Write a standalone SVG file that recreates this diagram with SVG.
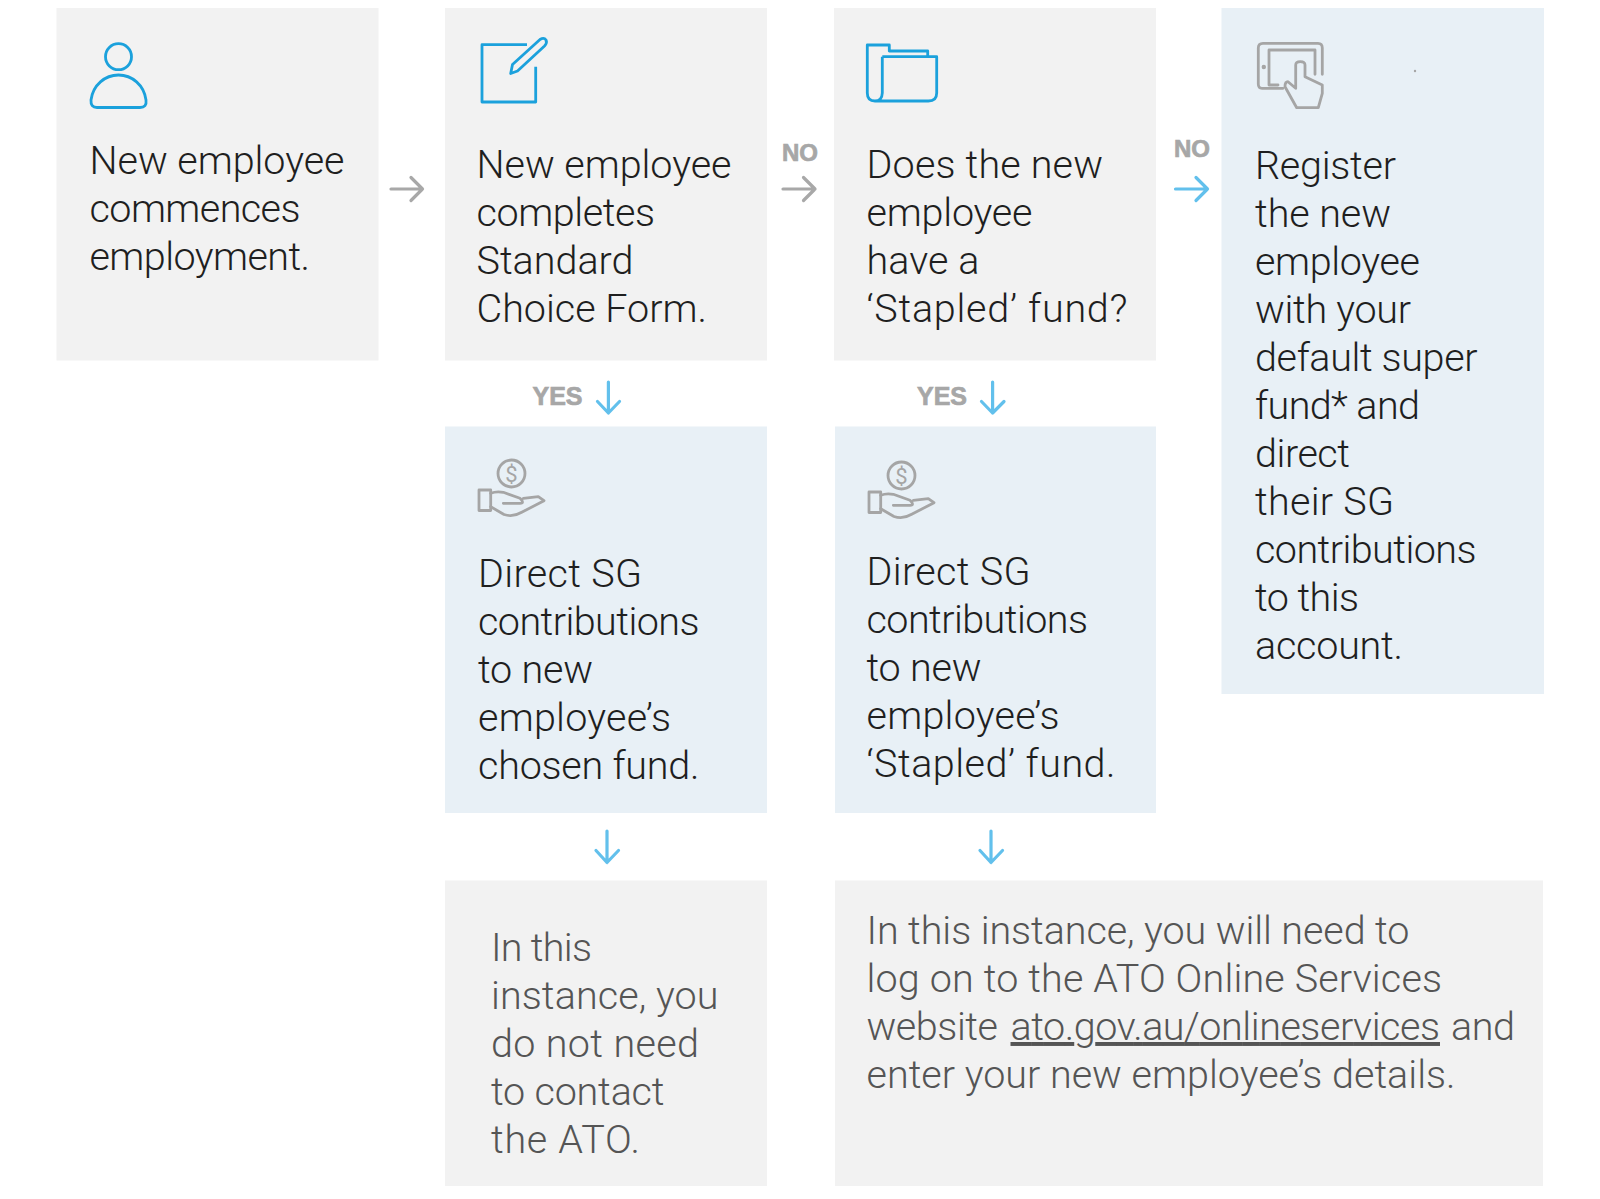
<svg xmlns="http://www.w3.org/2000/svg" width="1600" height="1199" viewBox="0 0 1600 1199">
<style>
.g{fill:#f2f2f2}.b{fill:#e8f0f6}
.t{font-family:Roboto,"Liberation Sans",sans-serif;font-weight:300;font-size:39.5px;fill:#1f1f1f}
.d{fill:#555}
.l{font-family:"Liberation Sans",Arial,sans-serif;font-weight:700;fill:#a7a7a7;stroke:#a7a7a7;stroke-width:.7}
.a{fill:none;stroke-width:3.2;stroke-linecap:round;stroke-linejoin:round}
.ag{stroke:#a8a8a8}.ab{stroke:#62c0ec}
.ic{fill:none;stroke:#1ba1dc;stroke-width:2.8;stroke-linejoin:round}
.ig{fill:none;stroke:#a5a5a5;stroke-width:2.8;stroke-linejoin:round;stroke-linecap:round}
</style>
<defs>
<g id="hand">
<circle cx="511.500" cy="473.500" r="13.500" class="ig"/>
<text x="511.500" y="481.500" text-anchor="middle" font-family="Roboto,sans-serif" font-size="22" fill="#a5a5a5">$</text>
<rect x="479" y="490" width="11.700" height="20.500" class="ig"/>
<path class="ig" d="M490.700 493.300C495 491.500 499 491.500 503.300 492.300L520 498.300Q525 503.300 520 503.300H503.300M523.300 498.300L538.300 496.700L544 500.700L521.700 512.300Q513 517.500 504 514.500L490.700 506.700"/>
</g>
</defs>
<g id="n1"><rect class="g" x="56.500" y="8" width="322" height="352.500"/>
<circle class="ic" cx="118.500" cy="56.700" r="13"/>
<path class="ic" d="M97 107.500H140Q147 107.500 146 100C144 85 132 75 118.500 75C105 75 93 85 91 100Q90.500 107.500 97 107.500Z"/>
<text class="t" x="89.500" y="174" textLength="255">New employee</text>
<text class="t" x="89.500" y="222" textLength="211">commences</text>
<text class="t" x="89.500" y="270" textLength="220.500">employment.</text></g>
<g id="n2"><rect class="g" x="445" y="8" width="322" height="352.500"/>
<path class="ic" d="M527 44.700H482V102H535.700V66.700"/>
<path class="ic" d="M510.700 73.500L512.500 64.500L540 39.500Q544 37 546 40Q547.500 43 544.500 46L517.500 71Z"/>
<text class="t" x="476.500" y="178" textLength="255">New employee</text>
<text class="t" x="476.500" y="226" textLength="178.500">completes</text>
<text class="t" x="476.500" y="274" textLength="157">Standard</text>
<text class="t" x="476.500" y="322" textLength="230.500">Choice Form.</text></g>
<g id="n3"><rect class="g" x="834" y="8" width="322" height="352.500"/>
<path class="ic" d="M882.300 56.700V93Q882 101 875 101Q867.300 101 867.300 93V45H889.300V51H927.700V56.700M882.300 56.700H936.700V93Q936.700 101 928.300 101H875"/>
<text class="t" x="866.500" y="178" textLength="236.500">Does the new</text>
<text class="t" x="866.500" y="226" textLength="166">employee</text>
<text class="t" x="866.500" y="274" textLength="113">have a</text>
<text class="t" x="866.500" y="322" textLength="261">‘Stapled’ fund?</text></g>
<g id="n4"><rect class="b" x="1221.500" y="8" width="322.500" height="686"/>
<path class="ig" d="M1283 88.300H1262Q1258.300 88.300 1258.300 84V48Q1258.300 43.300 1263 43.300H1318Q1322.300 43.300 1322.300 48V74.300M1278 85H1269V50H1315V74.300"/>
<circle cx="1263.800" cy="67" r="2.200" fill="#a5a5a5"/>
<path class="ig" d="M1295.700 88.300V65Q1295.700 61.700 1300.300 61.700Q1305 61.700 1305 65V76.700L1322.300 85V93.300L1318.300 107.700H1296.700L1285 86.700Q1285 81.700 1288 81.700Z"/>
<circle cx="1415" cy="71" r="1.200" fill="#a5a5a5"/>
<text class="t" x="1255" y="179" textLength="141">Register</text>
<text class="t" x="1255" y="227" textLength="136">the new</text>
<text class="t" x="1255" y="275" textLength="165">employee</text>
<text class="t" x="1255" y="323" textLength="156">with your</text>
<text class="t" x="1255" y="371" textLength="222.500">default super</text>
<text class="t" x="1255" y="419" textLength="165">fund* and</text>
<text class="t" x="1255" y="467" textLength="95">direct</text>
<text class="t" x="1255" y="515" textLength="139">their SG</text>
<text class="t" x="1255" y="563" textLength="221.500">contributions</text>
<text class="t" x="1255" y="611" textLength="104">to this</text>
<text class="t" x="1255" y="659" textLength="148">account.</text></g>
<g id="n5"><rect class="b" x="445" y="426.500" width="322" height="386.500"/>
<use href="#hand"/>
<text class="t" x="478" y="587" textLength="164">Direct SG</text>
<text class="t" x="478" y="635" textLength="221.500">contributions</text>
<text class="t" x="478" y="683" textLength="115">to new</text>
<text class="t" x="478" y="731" textLength="193">employee’s</text>
<text class="t" x="478" y="779" textLength="221.500">chosen fund.</text></g>
<g id="n6"><rect class="b" x="835" y="426.500" width="321" height="386.500"/>
<use href="#hand" x="390" y="2"/>
<text class="t" x="866.500" y="585" textLength="164">Direct SG</text>
<text class="t" x="866.500" y="633" textLength="221.500">contributions</text>
<text class="t" x="866.500" y="681" textLength="115">to new</text>
<text class="t" x="866.500" y="729" textLength="193">employee’s</text>
<text class="t" x="866.500" y="777" textLength="249">‘Stapled’ fund.</text></g>
<g id="n7"><rect class="g" x="445" y="880.500" width="322" height="305.500"/>
<text class="t d" x="491" y="961" textLength="101">In this</text>
<text class="t d" x="491" y="1009" textLength="227.500">instance, you</text>
<text class="t d" x="491" y="1057" textLength="208">do not need</text>
<text class="t d" x="491" y="1105" textLength="173.500">to contact</text>
<text class="t d" x="491" y="1153" textLength="149">the ATO.</text></g>
<g id="n8"><rect class="g" x="835" y="880.500" width="708" height="305.500"/>
<text class="t d" x="866.500" y="944" textLength="543">In this instance, you will need to</text>
<text class="t d" x="866.500" y="992" textLength="575.500">log on to the ATO Online Services</text>
<text class="t d" x="866.500" y="1040" textLength="131.500">website</text>
<text class="t d" x="1010.500" y="1040" textLength="429.500" text-decoration="underline">ato.gov.au/onlineservices</text>
<text class="t d" x="1451" y="1040" textLength="64">and</text>
<text class="t d" x="866.500" y="1088" textLength="589">enter your new employee’s details.</text></g>
<g id="connectors">
<path class="a ag" d="M391 189H422.500M411 177.500L422.500 189L411 200.500"/>
<path class="a ag" d="M783 189H815M803.500 177.500L815 189L803.500 200.500"/>
<path class="a ab" d="M1175.500 189H1207.500M1196 177.500L1207.500 189L1196 200.500"/>
<path class="a ab" d="M608.400 382V413M597.500 401.500L608.400 413L619.500 401.500"/>
<path class="a ab" d="M992.600 382V413M981.500 401.500L992.600 413L1004 401.500"/>
<path class="a ab" d="M607 831V862.500M596 850.500L607 862.500L618.500 850.500"/>
<path class="a ab" d="M991 831V862.500M980 850.500L991 862.500L1002.500 850.500"/>
<text class="l" x="782" y="161" font-size="24">NO</text>
<text class="l" x="1174" y="157" font-size="24">NO</text>
<text class="l" x="532.500" y="405" font-size="25">YES</text>
<text class="l" x="917" y="405" font-size="25">YES</text>
</g>
</svg>
